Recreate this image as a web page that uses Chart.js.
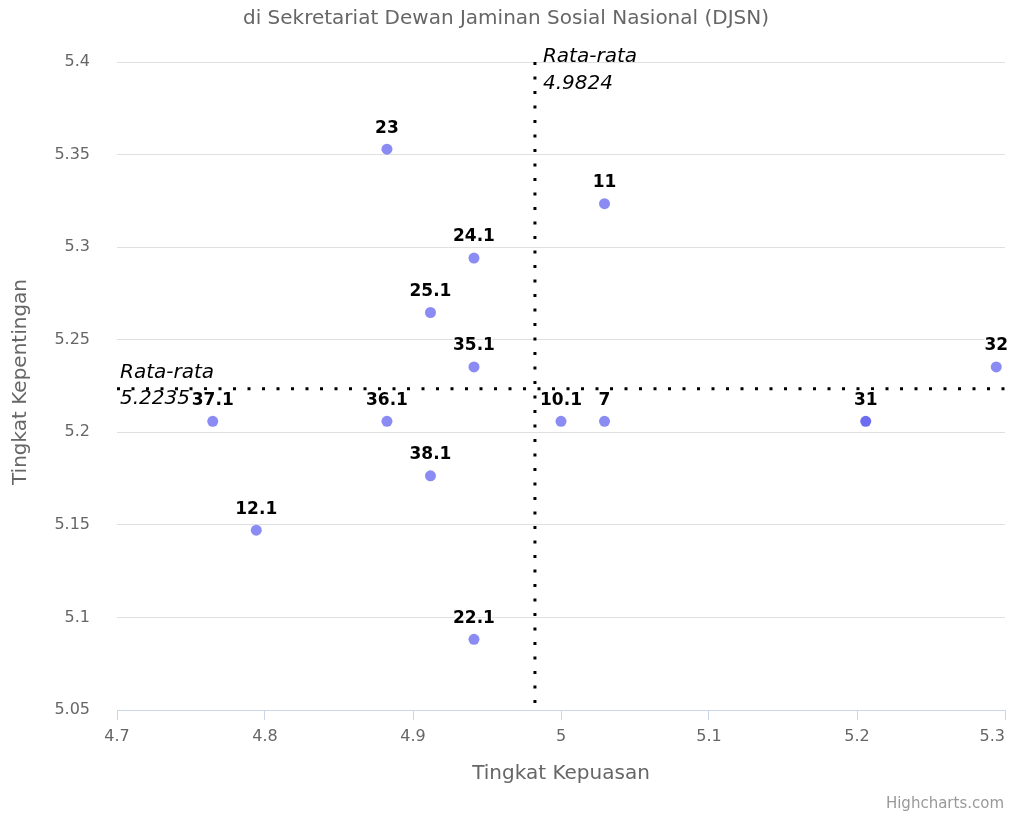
<!DOCTYPE html>
<html>
<head>
<meta charset="utf-8">
<title>Tingkat Kepuasan vs Tingkat Kepentingan – DJSN</title>
<script src="https://cdn.jsdelivr.net/npm/chart.js@4.4.1/dist/chart.umd.min.js"></script>
<style>
  html, body { margin: 0; padding: 0; background: #ffffff; }
  #wrap { width: 1012px; height: 816px; position: relative; }
</style>
</head>
<body>
<div id="wrap"><canvas id="chart"></canvas></div>
<script>
// Item codes and their average scores
const itemLabels  = ['23', '11', '24.1', '25.1', '35.1', '32', '37.1', '36.1', '10.1', '7', '31', '38.1', '12.1', '22.1'];
const kepuasan    = [4.8824, 5.0294, 4.9412, 4.9118, 4.9412, 5.2941, 4.7647, 4.8824, 5.0000, 5.0294, 5.2059, 4.9118, 4.7941, 4.9412];
const kepentingan = [5.3529, 5.3235, 5.2941, 5.2647, 5.2353, 5.2353, 5.2059, 5.2059, 5.2059, 5.2059, 5.2059, 5.1765, 5.1471, 5.0882];

// Overall averages (reference lines)
const rataKepuasan    = 4.9824;
const rataKepentingan = 5.2235;

// Axis ranges and tick steps
const xRange = [4.7, 5.3];
const yRange = [5.05, 5.4];
const xStep = 0.1;
const yStep = 0.05;

const chartTitle  = 'di Sekretariat Dewan Jaminan Sosial Nasional (DJSN)';
const xAxisTitle  = 'Tingkat Kepuasan';
const yAxisTitle  = 'Tingkat Kepentingan';
const avgLabel    = 'Rata-rata';
const creditText  = 'Highcharts.com';

const FONT = '"DejaVu Sans", "Lucida Grande", Verdana, sans-serif';

const fmt = v => String(Number(v.toFixed(2)));

// Item 31 sits on top of a second, identical point, so it renders darker
const pointFill = itemLabels.map(l => l === '31' ? 'rgba(100,100,240,0.94)' : 'rgba(100,100,240,0.75)');

const decorations = {
  id: 'decorations',
  beforeDatasetsDraw(chart) {
    const { ctx, chartArea: a, scales: { x, y } } = chart;
    const mx = x.getPixelForValue(rataKepuasan);
    const my = y.getPixelForValue(rataKepentingan);
    ctx.save();
    ctx.strokeStyle = '#000000';
    ctx.lineWidth = 3;
    ctx.setLineDash([3, 11.5]);
    ctx.beginPath();
    ctx.moveTo(a.left, my);
    ctx.lineTo(a.right, my);
    ctx.stroke();
    ctx.beginPath();
    ctx.moveTo(mx, a.top);
    ctx.lineTo(mx, a.bottom);
    ctx.stroke();
    ctx.restore();
  },
  afterDatasetsDraw(chart) {
    const { ctx, chartArea: a, scales: { x, y } } = chart;
    const mx = x.getPixelForValue(rataKepuasan);
    const my = y.getPixelForValue(rataKepentingan);
    ctx.save();

    // X tick labels (the last one is kept inside the chart edge)
    ctx.fillStyle = '#666666';
    ctx.font = '16px ' + FONT;
    ctx.textBaseline = 'middle';
    x.ticks.forEach(t => {
      const label = fmt(t.value);
      const px = x.getPixelForValue(t.value);
      const w = ctx.measureText(label).width;
      let cx = px;
      if (cx + w / 2 > chart.width - 7) cx = chart.width - 7 - w / 2;
      ctx.textAlign = 'center';
      ctx.fillText(label, cx, a.bottom + 27);
    });

    // Average labels
    ctx.fillStyle = '#000000';
    ctx.font = 'italic 20px ' + FONT;
    ctx.textAlign = 'left';
    ctx.textBaseline = 'middle';
    ctx.fillText(avgLabel, a.left + 3, my - 16);
    ctx.fillText(rataKepentingan.toFixed(4), a.left + 3, my + 10);
    ctx.fillText(avgLabel, mx + 8, a.top - 5);
    ctx.fillText(rataKepuasan.toFixed(4), mx + 8, a.top + 22);

    // Point labels
    ctx.font = 'bold 17px ' + FONT;
    ctx.textAlign = 'center';
    ctx.lineJoin = 'round';
    const meta = chart.getDatasetMeta(0);
    meta.data.forEach((pt, i) => {
      const tx = pt.x, ty = pt.y - 21;
      ctx.strokeStyle = '#ffffff';
      ctx.lineWidth = 3;
      ctx.strokeText(itemLabels[i], tx, ty);
      ctx.fillStyle = '#000000';
      ctx.fillText(itemLabels[i], tx, ty);
    });

    // Title, axis titles, credit
    ctx.fillStyle = '#666666';
    ctx.font = '20px ' + FONT;
    ctx.textAlign = 'center';
    ctx.fillText(chartTitle, chart.width / 2, 19);

    ctx.font = '20px ' + FONT;
    ctx.fillText(xAxisTitle, (a.left + a.right) / 2, 774);

    ctx.save();
    ctx.translate(21, 382);
    ctx.rotate(-Math.PI / 2);
    ctx.fillText(yAxisTitle, 0, 0);
    ctx.restore();

    ctx.fillStyle = '#999999';
    ctx.font = '15px ' + FONT;
    ctx.textAlign = 'right';
    ctx.fillText(creditText, 1004, 804);

    ctx.restore();
  }
};

new Chart(document.getElementById('chart'), {
  type: 'scatter',
  data: {
    datasets: [{
      data: kepuasan.map((v, i) => ({ x: v, y: kepentingan[i] })),
      pointRadius: 5.5,
      pointHoverRadius: 5.5,
      pointBackgroundColor: pointFill,
      pointBorderWidth: 0,
      borderColor: 'rgba(0,0,0,0)'
    }]
  },
  options: {
    responsive: true,
    maintainAspectRatio: false,
    animation: false,
    devicePixelRatio: 1,
    events: [],
    layout: { padding: { top: 62, right: 7, bottom: 0, left: 0 } },
    plugins: {
      legend: { display: false },
      tooltip: { enabled: false },
      title: { display: false }
    },
    scales: {
      x: {
        type: 'linear',
        min: xRange[0],
        max: xRange[1],
        ticks: {
          stepSize: xStep,
          display: false,
          callback: v => fmt(v)
        },
        grid: { drawOnChartArea: false, drawTicks: true, tickLength: 10, color: '#ccd6eb', lineWidth: 1 },
        border: { display: true, color: '#ccd6eb', width: 1 },
        afterFit(s) { s.height = 106; s.paddingLeft = 0; s.paddingRight = 0; }
      },
      y: {
        type: 'linear',
        min: yRange[0],
        max: yRange[1],
        ticks: {
          stepSize: yStep,
          padding: 27,
          color: '#666666',
          font: { family: FONT, size: 16 },
          callback: v => fmt(v)
        },
        grid: { color: '#e0e0e0', lineWidth: 1, drawTicks: false },
        border: { display: false },
        afterFit(s) { s.width = 117; s.paddingTop = 0; s.paddingBottom = 0; }
      }
    }
  },
  plugins: [decorations]
});
</script>
</body>
</html>
